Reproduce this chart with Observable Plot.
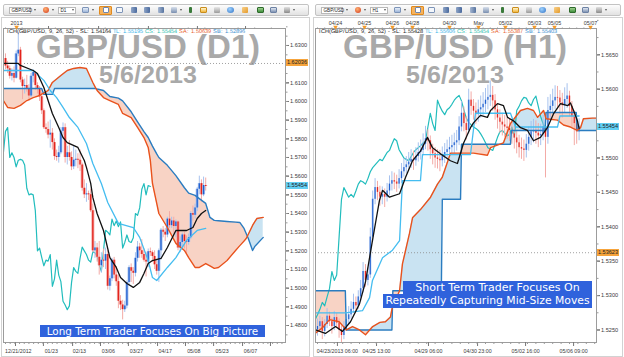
<!DOCTYPE html>
<html>
<head>
<meta charset="utf-8">
<script src="https://cdn.jsdelivr.net/npm/d3@7"></script>
<script src="https://cdn.jsdelivr.net/npm/@observablehq/plot@0.6"></script>
<style>
  @font-face { font-family:"WMTight"; src:local("Liberation Sans Bold"), local("LiberationSans-Bold"); font-weight:700; ascent-override:73%; descent-override:1%; line-gap-override:0%; }
  @font-face { font-family:"LegTight"; src:local("Liberation Sans"), local("LiberationSans"); font-weight:400; ascent-override:73%; descent-override:1%; line-gap-override:0%; }
  html, body { margin:0; padding:0; background:#fff; }
  #root { position:relative; width:624px; height:357px; overflow:hidden; background:#fff; font-family:"Liberation Sans", Arial, sans-serif; }
  .pborder { position:absolute; top:17px; height:340px; border:1px solid #d2d2d2; box-sizing:border-box; }
  .wm { position:absolute; color:#a9a9a9; font-weight:bold; font-family:"WMTight","Liberation Sans", Arial, sans-serif; white-space:nowrap; text-align:center; line-height:1; z-index:0; }
  .chart { position:absolute; top:17px; z-index:1; }
  .legend { position:absolute; top:28px; font-family:"LegTight","Liberation Sans", Arial, sans-serif; font-size:5.6px; line-height:7px; white-space:nowrap; z-index:2; }
  .legend span { margin-right:2px; }
  .tag { position:absolute; height:7px; line-height:7px; font-size:5.6px; text-align:center; width:22px; z-index:3; color:#222; }
  .note { position:absolute; z-index:3; font-family:"DejaVu Sans", Verdana, sans-serif; color:#fff; white-space:nowrap; background:#2f62dc; text-align:center; }
  .tb { position:absolute; top:4px; height:12px; border:1px solid #c3c3c3; border-radius:2px; background:linear-gradient(#fdfdfd,#e2e2e2); box-sizing:border-box; z-index:2; }
  .tb div { position:absolute; box-sizing:border-box; }
  .sel { top:1.5px; height:7px; background:#fff; border:1px solid #b9b9b9; font-size:4.6px; line-height:5px; padding-left:1.5px; color:#222; }
  .arr { top:4px; width:0; height:0; border-left:1.5px solid transparent; border-right:1.5px solid transparent; border-top:2px solid #555; }
  .ico { top:2px; width:6px; height:6px; border-radius:1px; }
</style>
</head>
<body>
<div id="root"></div>
<script>
// ---------------- DATA : left panel (GBP/USD daily, bar index 0 = 12/21/2012) ----------------
const leftFirstOpen = 1.6230;
const leftClose = [1.6190,1.6175,1.6135,1.6150,1.6125,1.6255,1.6275,1.6115,1.6080,1.6085,
  1.6070,1.6030,1.6135,1.6155,1.6085,1.6065,1.6025,1.5950,1.5860,1.5850,
  1.5820,1.5830,1.5780,1.5705,1.5700,1.5725,1.5840,1.5860,1.5700,1.5725,
  1.5700,1.5650,1.5685,1.5690,1.5685,1.5660,1.5535,1.5500,1.5505,1.5500,
  1.5415,1.5200,1.5215,1.5165,1.5120,1.5150,1.5145,1.5180,1.5010,1.5050,
  1.5150,1.5070,1.5035,1.4930,1.4910,1.4885,1.4905,1.5030,1.5110,1.5090,
  1.5080,1.5160,1.5220,1.5200,1.5180,1.5150,1.5140,1.5195,1.5190,1.5170,
  1.5125,1.5090,1.5200,1.5310,1.5300,1.5285,1.5370,1.5335,1.5360,1.5330,
  1.5355,1.5215,1.5245,1.5285,1.5250,1.5245,1.5270,1.5400,1.5390,1.5430,
  1.5530,1.5560,1.5500,1.5550,1.5545];
const leftHigh = [1.6255,1.6215,1.6190,1.6175,1.6185,1.6270,1.6370,1.6290,1.6130,1.6120,
  1.6140,1.6090,1.6150,1.6170,1.6160,1.6100,1.6080,1.6050,1.5960,1.5880,
  1.5890,1.5900,1.5855,1.5800,1.5740,1.5760,1.5860,1.5885,1.5880,1.5760,
  1.5790,1.5730,1.5760,1.5740,1.5720,1.5740,1.5670,1.5580,1.5560,1.5520,
  1.5530,1.5450,1.5250,1.5240,1.5250,1.5190,1.5210,1.5215,1.5200,1.5065,
  1.5160,1.5165,1.5115,1.5070,1.4960,1.4935,1.4930,1.5040,1.5120,1.5130,
  1.5110,1.5190,1.5250,1.5240,1.5260,1.5210,1.5190,1.5210,1.5215,1.5200,
  1.5200,1.5155,1.5210,1.5320,1.5330,1.5320,1.5380,1.5410,1.5380,1.5380,
  1.5365,1.5360,1.5275,1.5295,1.5300,1.5280,1.5290,1.5410,1.5440,1.5450,
  1.5540,1.5600,1.5580,1.5595,1.5590];
const leftLow = [1.6170,1.6150,1.6120,1.6110,1.6100,1.6120,1.6240,1.6100,1.6010,1.6040,
  1.6050,1.6000,1.6020,1.6100,1.6060,1.6040,1.6000,1.5930,1.5850,1.5830,
  1.5800,1.5750,1.5740,1.5685,1.5680,1.5670,1.5715,1.5820,1.5670,1.5660,
  1.5680,1.5630,1.5635,1.5650,1.5640,1.5625,1.5520,1.5480,1.5460,1.5470,
  1.5405,1.5190,1.5160,1.5140,1.5070,1.5080,1.5110,1.5100,1.4990,1.4985,
  1.5035,1.5050,1.5010,1.4890,1.4880,1.4830,1.4870,1.4890,1.5010,1.5030,
  1.5020,1.5060,1.5140,1.5160,1.5160,1.5140,1.5060,1.5110,1.5170,1.5140,
  1.5100,1.5070,1.5030,1.5150,1.5270,1.5250,1.5270,1.5320,1.5320,1.5290,
  1.5270,1.5200,1.5190,1.5220,1.5210,1.5185,1.5230,1.5260,1.5360,1.5370,
  1.5410,1.5500,1.5460,1.5490,1.5520];
// Ichimoku lines (bar index, price)
const leftSLx = [-1,6,7,13,15,18,20,22,25,27,29,34,37,38,40,41,43,46,49,52,54,57,60,63,65,67,69,73,76,80,85,88,90,92,94];
const leftSLy = [1.6204,1.6204,1.6193,1.6166,1.6150,1.6075,1.6005,1.5936,1.5861,1.5807,1.5780,1.5754,1.5684,1.5647,1.5561,1.5486,1.5400,1.5309,1.5164,1.5111,1.5057,1.5025,1.5004,1.5031,1.5079,1.5132,1.5148,1.5159,1.5218,1.5309,1.5309,1.5325,1.5373,1.5400,1.5416];
const leftTLx = [-1,13,18,21,24,27,30,34,38,41,45,48,53,60,63,67,69,71,76,80,85,90,94];
const leftTLy = [1.6166,1.6166,1.6113,1.6059,1.6021,1.5968,1.5914,1.5861,1.5775,1.5668,1.5561,1.5459,1.5347,1.5325,1.5272,1.5148,1.5057,1.5041,1.5111,1.5164,1.5256,1.5309,1.5320];
const leftCloudX = [-1,1,4,7,10,13,16,17,18,20,22,23,26,29,32,35,38,41,42,43,46,49,53,55,59,62,65,67,68,69,71,72,76,80,84,86,89,91,94,96,98,100,104,108,110,112,113,114,116,117,118,121];
const leftSA = [1.6005,1.5968,1.5963,1.5979,1.6005,1.6021,1.6032,1.6039,1.6045,1.6059,1.6102,1.6111,1.6139,1.6166,1.6177,1.6182,1.6177,1.6102,1.6080,1.6059,1.6021,1.6005,1.5984,1.5936,1.5914,1.5861,1.5807,1.5754,1.5684,1.5561,1.5454,1.5400,1.5325,1.5240,1.5202,1.5164,1.5111,1.5111,1.5132,1.5119,1.5106,1.5111,1.5148,1.5202,1.5228,1.5253,1.5266,1.5289,1.5336,1.5355,1.5373,1.5379];
const leftSB = [1.6070,1.6070,1.6070,1.6070,1.6070,1.6070,1.6070,1.6070,1.6038,1.6038,1.6038,1.6070,1.6070,1.6070,1.6070,1.6070,1.6070,1.6070,1.6070,1.6067,1.6059,1.6027,1.6018,1.6003,1.5945,1.5891,1.5839,1.5807,1.5784,1.5761,1.5719,1.5700,1.5658,1.5603,1.5538,1.5509,1.5497,1.5480,1.5454,1.5379,1.5363,1.5361,1.5357,1.5354,1.5352,1.5320,1.5293,1.5266,1.5202,1.5223,1.5235,1.5272];
// tick marks every 0.01; 1.62 is drawn but its label sits under the 1.62036 price tag, as in the picture
const leftYTicks = [1.48,1.49,1.50,1.51,1.52,1.53,1.54,1.55,1.56,1.57,1.58,1.59,1.60,1.61,1.62,1.63];
const leftYLabelled = [1.48,1.49,1.50,1.51,1.52,1.53,1.54,1.55,1.56,1.57,1.58,1.59,1.60,1.61,1.63];
const leftBottomLabels = ["12/21/2012","01/23","02/13","03/06","03/27","04/17","05/08","05/23","06/07"];
const leftBottomLabelX = [6.0,21.5,34.7,48.3,61.5,75.0,88.4,101.7,115.0];
const leftBottomTickX = [4.7,17.8,31.5,44.6,57.7,71.4,84.5,97.7,111.3,124.4];
const leftTopLabels = ["2013"];
const leftTopLabelX = [5.2];
const leftTopTickX = [20.2,43.7,67.1,90.1,112.7];
const leftHLine = 1.62036;
const leftTags = [[1.62036,"#f6a43c"],[1.55454,"#62cff3"]];
const leftLegend = [["ICH(GBP/USD, 9, 26, 52) - SL: 1.54164","#222"],["TL: 1.55195","#37b5ea"],["CS: 1.55454","#2fbfb0"],["SA: 1.50639","#e8622c"],["SB: 1.52896","#3b8fd0"]];

// ---------------- DATA : right panel (GBP/USD, 2-hour steps, index 0 = 04/23 ~06:00) ----------------
const rightFirstOpen = 1.5250;
const rightClose = [1.5255,1.5262,1.5248,1.5258,1.5270,1.5262,1.5255,1.5268,1.5260,1.5250,
  1.5242,1.5255,1.5265,1.5272,1.5280,1.5290,1.5285,1.5298,1.5310,1.5335,
  1.5322,1.5330,1.5385,1.5440,1.5457,1.5450,1.5443,1.5447,1.5443,1.5452,
  1.5462,1.5467,1.5465,1.5462,1.5470,1.5480,1.5486,1.5490,1.5494,1.5498,
  1.5496,1.5502,1.5508,1.5511,1.5520,1.5528,1.5525,1.5512,1.5506,1.5500,
  1.5498,1.5496,1.5502,1.5508,1.5512,1.5515,1.5518,1.5522,1.5525,1.5545,
  1.5565,1.5550,1.5540,1.5584,1.5575,1.5568,1.5563,1.5570,1.5573,1.5578,
  1.5584,1.5588,1.5591,1.5583,1.5570,1.5558,1.5552,1.5548,1.5545,1.5543,
  1.5540,1.5535,1.5529,1.5522,1.5515,1.5513,1.5511,1.5520,1.5530,1.5538,
  1.5540,1.5536,1.5532,1.5534,1.5545,1.5530,1.5569,1.5575,1.5583,1.5588,
  1.5587,1.5580,1.5576,1.5585,1.5590,1.5575,1.5560,1.5550,1.5538,1.5545];
const rightHigh = [1.5266,1.5270,1.5268,1.5265,1.5281,1.5276,1.5267,1.5277,1.5274,1.5266,
  1.5256,1.5262,1.5273,1.5284,1.5291,1.5302,1.5298,1.5307,1.5322,1.5348,
  1.5345,1.5341,1.5398,1.5452,1.5470,1.5466,1.5459,1.5458,1.5455,1.5463,
  1.5474,1.5480,1.5478,1.5475,1.5483,1.5492,1.5499,1.5502,1.5508,1.5512,
  1.5510,1.5515,1.5522,1.5526,1.5535,1.5546,1.5541,1.5532,1.5520,1.5515,
  1.5512,1.5511,1.5516,1.5521,1.5526,1.5530,1.5533,1.5536,1.5540,1.5560,
  1.5582,1.5574,1.5560,1.5600,1.5596,1.5585,1.5580,1.5584,1.5590,1.5595,
  1.5601,1.5606,1.5612,1.5604,1.5592,1.5578,1.5570,1.5565,1.5562,1.5559,
  1.5556,1.5552,1.5546,1.5540,1.5533,1.5529,1.5526,1.5534,1.5545,1.5553,
  1.5556,1.5554,1.5550,1.5549,1.5562,1.5565,1.5588,1.5592,1.5600,1.5605,
  1.5604,1.5598,1.5594,1.5602,1.5608,1.5597,1.5582,1.5568,1.5554,1.5557];
const rightLow = [1.5241,1.5248,1.5236,1.5240,1.5252,1.5255,1.5244,1.5249,1.5252,1.5238,
  1.5230,1.5236,1.5249,1.5258,1.5266,1.5274,1.5276,1.5280,1.5291,1.5304,
  1.5312,1.5314,1.5325,1.5378,1.5432,1.5438,1.5430,1.5432,1.5428,1.5436,
  1.5445,1.5452,1.5454,1.5450,1.5455,1.5463,1.5472,1.5477,1.5481,1.5485,
  1.5482,1.5488,1.5494,1.5497,1.5503,1.5512,1.5510,1.5498,1.5490,1.5485,
  1.5484,1.5480,1.5487,1.5492,1.5497,1.5500,1.5504,1.5506,1.5510,1.5518,
  1.5538,1.5538,1.5526,1.5535,1.5562,1.5555,1.5549,1.5552,1.5558,1.5562,
  1.5566,1.5570,1.5575,1.5568,1.5555,1.5542,1.5536,1.5532,1.5530,1.5527,
  1.5524,1.5520,1.5513,1.5506,1.5500,1.5498,1.5495,1.5500,1.5510,1.5518,
  1.5522,1.5520,1.5515,1.5518,1.5525,1.5471,1.5520,1.5556,1.5564,1.5570,
  1.5570,1.5563,1.5558,1.5565,1.5572,1.5560,1.5544,1.5518,1.5520,1.5525];
const rightSLx = [-0.8,3.3,7.5,10.4,13.75,17.5,20,22.9,25.8,27.1,30,34.2,36.7,39.6,42.9,45.8,47.9,51.25,55.4,58.3,60.8,63.75,65,67.9,70.8,72.1,75,77.5,79.2,81.7,84.6,87.5,90,92.9,95.8,98.3,101.25,104.2,105.4,106.7,108.3,109];
const rightSLy = [1.5250,1.5245,1.5255,1.5248,1.5262,1.5288,1.5320,1.5380,1.5438,1.5453,1.5443,1.5448,1.5472,1.5496,1.5510,1.5530,1.5515,1.5506,1.5496,1.5492,1.5521,1.5544,1.5551,1.5562,1.5559,1.5569,1.5579,1.5576,1.5559,1.5554,1.5544,1.5540,1.5525,1.5530,1.5544,1.5564,1.5579,1.5576,1.5580,1.5569,1.5554,1.5543];
const rightTLx = [-0.8,11.7,18.75,21.7,22.9,27.1,31.25,34.2,35.4,42.9,43.75,63.75,65.8,80.4,82.5,100,101,109];
const rightTLy = [1.5275,1.5275,1.5278,1.5297,1.5322,1.5355,1.5366,1.5380,1.5467,1.5467,1.5505,1.5505,1.5565,1.5565,1.5545,1.5545,1.5561,1.5561];
const rightCloudX = [-1,2,5,9,11.6,12,14.6,17.5,20,23,26,28.3,30.4,31,31.4,34.2,35.4,38.3,39.6,42.9,47.1,50,51.6,52,55.4,59.6,60,65,70.8,72.1,77.5,80.4,80.8,84.6,87.5,90,91.7,94.2,94.8,95.2,100,102.5,105.4,107.8,108.2,109.6,110.8,114.6,117];
const rightSA = [1.5245,1.5253,1.5265,1.5262,1.5252,1.5250,1.5255,1.5250,1.5243,1.5255,1.5261,1.5262,1.5269,1.5280,1.5285,1.5307,1.5346,1.5390,1.5413,1.5425,1.5443,1.5462,1.5470,1.5472,1.5507,1.5507,1.5507,1.5507,1.5504,1.5515,1.5522,1.5550,1.5552,1.5569,1.5572,1.5569,1.5559,1.5569,1.5562,1.5557,1.5555,1.5548,1.5545,1.5541,1.5540,1.5544,1.5557,1.5558,1.5558];
const rightSB = [1.5307,1.5307,1.5307,1.5307,1.5307,1.5250,1.5250,1.5250,1.5250,1.5250,1.5250,1.5250,1.5250,1.5250,1.5307,1.5307,1.5307,1.5307,1.5307,1.5307,1.5307,1.5307,1.5307,1.5440,1.5440,1.5440,1.5520,1.5520,1.5520,1.5520,1.5520,1.5520,1.5540,1.5540,1.5540,1.5540,1.5540,1.5540,1.5540,1.5566,1.5566,1.5566,1.5566,1.5566,1.5540,1.5540,1.5540,1.5540,1.5540];
// 1.555 label sits under the 1.55454 price tag in the picture
const rightYTicks = [1.525,1.530,1.535,1.540,1.545,1.550,1.555,1.560,1.565];
const rightYLabelled = [1.525,1.530,1.535,1.540,1.545,1.550,1.560,1.565];
const rightBottomLabels = ["04/23/2013 06:00","04/25 13:00","04/29 06:00","04/30 23:00","05/02 16:00","05/06 09:00"];
const rightBottomLabelX = [8.3,24.6,46.25,66.7,86.7,106.7];
const rightTopLabels = ["04/24","04/25","04/26","04/28","04/30","May","05/02","05/03","05/05","05/07"];
const rightTopLabelX = [7.5,19.6,31.25,39.6,55,67.1,78.3,90.4,98.75,113.75];
const rightHLine = 1.53623;
const rightTags = [[1.55454,"#62cff3"],[1.53623,"#f6a43c"]];
const rightLegend = [["ICH(GBP/USD, 9, 26, 52) - SL: 1.55428","#222"],["TL: 1.55606","#37b5ea"],["CS: 1.55454","#2fbfb0"],["SA: 1.55387","#e8622c"],["SB: 1.55403","#3b8fd0"]];

const titles = ["GBP/USD (D1)", "GBP/USD (H1)"];
const subtitle = "5/6/2013";
const leftNote = "Long Term Trader Focuses On Big Picture";
const rightNotes = ["Short Term Trader Focuses On", "Repeatedly Capturing Mid-Size Moves"];

// ---------------- helpers ----------------
const root = document.getElementById("root");
function el(tag, cls, parent) { const e = document.createElement(tag); if (cls) e.className = cls; (parent || root).appendChild(e); return e; }
const pts = (xs, ys) => xs.map((x, k) => ({x, y: ys[k]}));
function cloudRows(xs, sa, sb) {
  const rows = [];
  for (let k = 0; k < xs.length; k++) {
    if (k > 0) {
      const d0 = sa[k-1] - sb[k-1], d1 = sa[k] - sb[k];
      if (d0 * d1 < 0) { // where the two drawn lines cross
        const t = d0 / (d0 - d1);
        const yc = sa[k-1] + t * (sa[k] - sa[k-1]);
        rows.push({x: xs[k-1] + t * (xs[k] - xs[k-1]), sa: yc, sb: yc, cross: true});
      }
    }
    rows.push({x: xs[k], sa: sa[k], sb: sb[k], cross: false});
  }
  return rows;
}

function makePanel(p) {
  const open = [p.firstOpen, ...p.close.slice(0, -1)]; // each bar opens at the prior close
  const bars = p.close.map((c, k) => ({i: k, o: open[k], h: p.high[k], l: p.low[k], c, up: c >= open[k]}));
  const chikou = p.close.map((c, k) => ({x: k - p.shift, y: c}));
  const cr = cloudRows(p.cloudX, p.sa, p.sb);
  const pinkOk = d => d.cross || d.sa <= d.sb, blueOk = d => d.cross || d.sa >= d.sb;
  const topMap = new Map(p.topLabelX.map((x, k) => [x, p.topLabels[k]]));
  const botMap = new Map(p.bottomLabelX.map((x, k) => [x, p.bottomLabels[k]]));
  const [x0, x1] = p.xDomain;
  const plot = Plot.plot({
    width: p.width, height: 340,
    marginLeft: 3, marginRight: p.marginRight, marginTop: 11, marginBottom: 15,
    x: {domain: p.xDomain, label: null},
    y: {domain: p.yDomain, label: null},
    style: {background: "transparent", fontFamily: "'Liberation Sans', Arial, sans-serif", fontSize: "5.6px", color: "#3a3a3a", overflow: "visible"},
    marks: [
      Plot.areaY(cr, {x: "x", y1: d => pinkOk(d) ? d.sa : NaN, y2: d => pinkOk(d) ? d.sb : NaN, fill: "#f8d3c5", clip: true}),
      Plot.areaY(cr, {x: "x", y1: d => blueOk(d) ? d.sa : NaN, y2: d => blueOk(d) ? d.sb : NaN, fill: "#c9e3f2", clip: true}),
      Plot.ruleY([p.hline], {stroke: "#8a8a8a", strokeDasharray: "1,2", strokeWidth: 0.8}),
      Plot.lineY(chikou, {x: "x", y: "y", stroke: "#22bdbd", strokeWidth: 1.2, clip: true}),
      Plot.ruleX(bars, {x: "i", y1: "l", y2: "h", stroke: d => d.up ? "#a7c2ee" : "#f3aaa6", strokeWidth: 1, clip: true}),
      Plot.ruleX(bars, {x: "i", y1: "o", y2: "c", stroke: d => d.up ? "#a7c2ee" : "#f3aaa6", strokeWidth: p.bodyW, clip: true}),
      Plot.ruleX(bars, {x: "i", y1: "o", y2: "c", stroke: d => d.up ? "#1f5fd0" : "#e3231c", strokeWidth: p.coreW, clip: true}),
      Plot.lineY(pts(p.cloudX, p.sb), {x: "x", y: "y", stroke: "#2a7cc0", strokeWidth: 1.4, clip: true}),
      Plot.lineY(pts(p.cloudX, p.sa), {x: "x", y: "y", stroke: "#e9521c", strokeWidth: 1.4, clip: true}),
      Plot.lineY(pts(p.tlX, p.tlY), {x: "x", y: "y", stroke: "#45bdf0", strokeWidth: 1.3, clip: true}),
      Plot.lineY(pts(p.slX, p.slY), {x: "x", y: "y", stroke: "#111", strokeWidth: 1.3, clip: true}),
      Plot.frame({stroke: "#9c9c9c"}),
      Plot.axisY(p.yTicks, {anchor: "right", tickSize: 3, tickFormat: () => "", label: null, stroke: "#777"}),
      Plot.axisY(p.yLabelled, {anchor: "right", tickSize: 3, tickPadding: 1.5, tickFormat: d3.format(".4f"), label: null, stroke: "#777"}),
      Plot.axisY(d3.range(p.yDomain[0], p.yDomain[1], p.yMinorStep).map(v => Math.ceil(v / p.yMinorStep) * p.yMinorStep), {anchor: "right", tickSize: 1.5, tickFormat: () => "", label: null, stroke: "#999"}),
      Plot.axisX(p.bottomTickX, {anchor: "bottom", tickSize: 4, tickFormat: () => "", label: null, stroke: "#777"}),
      Plot.axisX(d3.range(Math.ceil(x0), x1, p.bottomMinorStep), {anchor: "bottom", tickSize: 2, tickFormat: () => "", label: null, stroke: "#999"}),
      Plot.axisX(p.bottomLabelX, {anchor: "bottom", tickSize: 0, tickPadding: 6.5, tickFormat: d => botMap.get(d), label: null, fontSize: 5.3}),
      Plot.axisX(p.topLabelX.concat(p.topTickX), {anchor: "top", tickSize: 3, tickPadding: 1, tickFormat: d => topMap.get(d) || "", label: null, stroke: "#777", fontSize: 5.4}),
      Plot.axisX(d3.range(Math.ceil(x0), x1, p.topMinorStep), {anchor: "top", tickSize: 1.5, tickFormat: () => "", label: null, stroke: "#999"}),
      Plot.dot(p.topLabelX, {x: d => d, frameAnchor: "top", dy: -1.5, symbol: "triangle", r: 1.7, fill: "#f39a2a", rotate: 180})
    ]
  });
  const holder = el("div", "chart");
  holder.style.left = p.left + "px";
  holder.appendChild(plot);
  // price tags on the right axis, placed with the plot's own y scale
  const ys = plot.scale("y");
  p.tags.forEach(([v, col]) => {
    const t = el("div", "tag");
    t.textContent = d3.format(".5f")(v);
    t.style.background = col;
    t.style.left = (p.left + p.width - p.marginRight + 1) + "px";
    t.style.top = (17 + ys.apply(v) - 3.5) + "px";
  });
  // ichimoku legend line
  const lg = el("div", "legend");
  lg.style.left = (p.left + 7) + "px";
  p.legend.forEach(([txt, col]) => { const s = el("span", null, lg); s.textContent = txt; s.style.color = col; });
  // watermark
  const w1 = el("div", "wm"); w1.textContent = p.title;
  w1.style.left = p.left + "px"; w1.style.width = p.wmWidth + "px"; w1.style.top = "29.8px"; w1.style.fontSize = "33px";
  const w2 = el("div", "wm"); w2.textContent = subtitle;
  w2.style.left = p.left + "px"; w2.style.width = p.wmWidth + "px"; w2.style.top = "62.4px"; w2.style.fontSize = "25px";
}

function toolbar(x0, tf) {
  const tb = el("div", "tb");
  tb.style.left = (x0 + 3) + "px"; tb.style.width = "306px";
  const add = (cls, left, w, style, txt) => { const d = el("div", cls, tb); d.style.left = left + "px"; if (w) d.style.width = w + "px"; if (style) d.setAttribute("style", d.getAttribute("style") + ";" + style); if (txt) d.textContent = txt; return d; };
  add("sel", 5, 22, null, "GBP/USD"); add("arr", 30);
  add("ico", 39, 6, "border-radius:50%;background:radial-gradient(circle at 40% 35%,#ffb070,#d2381c)"); add("arr", 48);
  add("sel", 54, 18, null, tf); add("arr", 68);
  add("ico", 78, 7, "background:linear-gradient(#e6eef8,#9db5d9);border:1px solid #7d94b8"); add("arr", 88);
  add("ico", 95, 13, "top:0.5px;height:9px;background:#f6b25c;border:1px solid #e08a1e");
  add("ico", 98.5, 6, "background:#fff;border:1px solid #6f86ad");
  add("ico", 112, 7, "background:#f4f7fb;border:1px solid #7d94b8");
  add("ico", 127, 6, "background:linear-gradient(90deg,#8ea4c6,#4a6a9e)");
  add("ico", 140, 6, "background:linear-gradient(90deg,#8ea4c6,#4a6a9e)");
  add("ico", 154, 6, "background:linear-gradient(90deg,#a6b7d2,#56739f)");
  add("ico", 167, 6, "background:linear-gradient(#d7dfeb,#7a8fb0)"); add("arr", 176);
  add("ico", 185, 4, "background:#3a7a3a;width:3px");
  add("ico", 196, 7, "background:linear-gradient(#fff6cf,#f1b53a);border:1px solid #c98d1c");
  add("ico", 210, 6, "background:linear-gradient(#e8e8e8,#9b9b9b)");
  add("ico", 223, 7, "border-radius:50%;background:radial-gradient(circle at 40% 35%,#9fd3ff,#2d6fc4)");
  add("ico", 238, 6, "background:linear-gradient(135deg,#f9d08a,#e39a2b)");
  add("ico", 253, 7, "background:linear-gradient(#9fd08f,#3f8f3c);border:1px solid #2e6b2c");
  add("ico", 266, 7, "background:linear-gradient(#dfe6f1,#7f93b3);border:1px solid #6d82a4");
  add("ico", 280, 6, "background:linear-gradient(#e0e0e0,#8a8a8a)"); add("arr", 289);
}

// panel frames
[[1, 309], [313, 310]].forEach(([l, w]) => { const b = el("div", "pborder"); b.style.left = l + "px"; b.style.width = w + "px"; });

makePanel({
  left: 0, width: 310, marginRight: 25, wmWidth: 295,
  xDomain: [-0.94, 131.46], yDomain: [1.4709, 1.6391],
  firstOpen: leftFirstOpen, close: leftClose, high: leftHigh, low: leftLow, shift: 26,
  cloudX: leftCloudX, sa: leftSA, sb: leftSB, slX: leftSLx, slY: leftSLy, tlX: leftTLx, tlY: leftTLy,
  bodyW: 3, coreW: 1.3,
  yTicks: leftYTicks, yLabelled: leftYLabelled, yMinorStep: 0.005,
  bottomLabels: leftBottomLabels, bottomLabelX: leftBottomLabelX, bottomTickX: leftBottomTickX, bottomMinorStep: 2.2,
  topLabels: leftTopLabels, topLabelX: leftTopLabelX, topTickX: leftTopTickX, topMinorStep: 7.8,
  hline: leftHLine, tags: leftTags, legend: leftLegend, title: titles[0]
});
makePanel({
  left: 312, width: 312, marginRight: 28, wmWidth: 286,
  xDomain: [-0.83, 116.25], yDomain: [1.52318, 1.56882],
  firstOpen: rightFirstOpen, close: rightClose, high: rightHigh, low: rightLow, shift: 13,
  cloudX: rightCloudX, sa: rightSA, sb: rightSB, slX: rightSLx, slY: rightSLy, tlX: rightTLx, tlY: rightTLy,
  bodyW: 2, coreW: 1,
  yTicks: rightYTicks, yLabelled: rightYLabelled, yMinorStep: 0.0025,
  bottomLabels: rightBottomLabels, bottomLabelX: rightBottomLabelX, bottomTickX: rightBottomLabelX, bottomMinorStep: 3.5,
  topLabels: rightTopLabels, topLabelX: rightTopLabelX, topTickX: [], topMinorStep: 3,
  hline: rightHLine, tags: rightTags, legend: rightLegend, title: titles[1]
});
toolbar(0, "D1");
toolbar(312, "H1");

// annotation boxes
const n1 = el("div", "note"); n1.textContent = leftNote;
Object.assign(n1.style, {left: "40px", top: "325px", width: "225px", height: "12px", lineHeight: "12px", fontSize: "10.4px"});
const n2 = el("div", "note"); n2.textContent = rightNotes[0];
Object.assign(n2.style, {left: "403px", top: "281px", width: "189px", height: "13px", lineHeight: "13px", fontSize: "11px"});
const n3 = el("div", "note"); n3.textContent = rightNotes[1];
Object.assign(n3.style, {left: "383px", top: "294px", width: "209px", height: "14px", lineHeight: "14px", fontSize: "10.8px"});
</script>
</body>
</html>
